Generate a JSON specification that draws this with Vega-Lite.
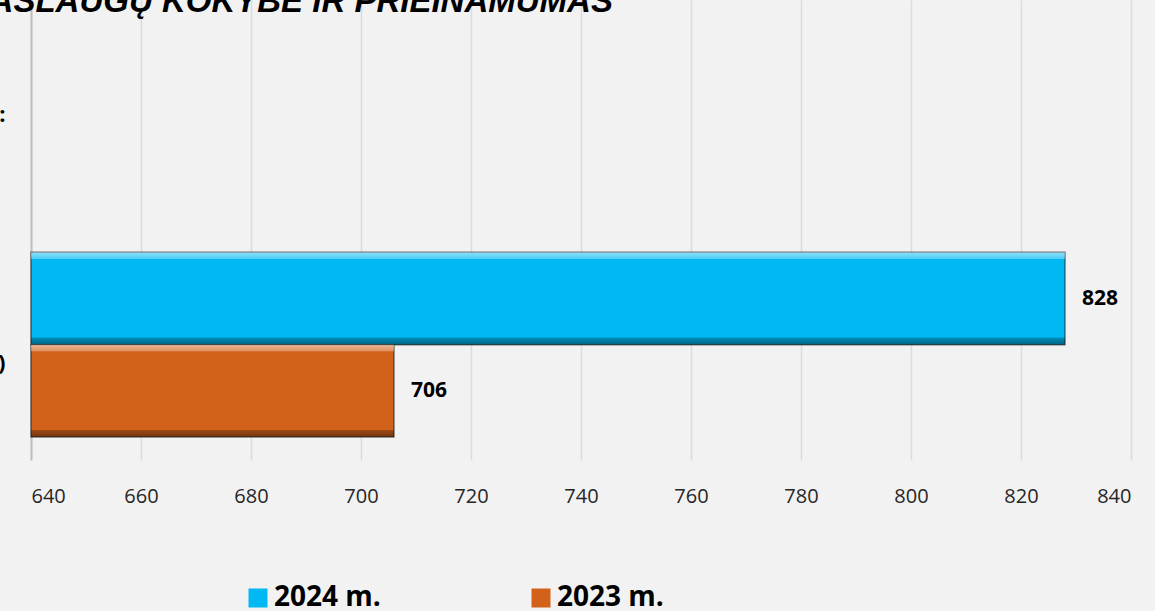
{
  "$schema": "https://vega.github.io/schema/vega-lite/v6.json",
  "autosize": {"type": "none"},
  "width": 1100,
  "height": 460,
  "padding": {"left": 31, "top": 0, "right": 24, "bottom": 151},
  "background": "#F2F2F2",
  "title": {
    "text": "PASLAUGŲ KOKYBĖ IR PRIEINAMUMAS",
    "anchor": "start",
    "frame": "group",
    "orient": "top",
    "offset": -45,
    "baseline": "alphabetic",
    "dx": -61,
    "font": "Liberation Sans",
    "fontSize": 33,
    "fontWeight": "bold",
    "fontStyle": "italic",
    "color": "#000000"
  },
  "data": {
    "values": [
      {"cat": "Socialinių paslaugų gavėjų skaičius (asmenys)", "year": "2024 m.", "value": 828},
      {"cat": "Socialinių paslaugų gavėjų skaičius (asmenys)", "year": "2023 m.", "value": 706}
    ]
  },
  "encoding": {
    "y": {
      "field": "cat",
      "type": "nominal",
      "title": null,
      "scale": {
        "domain": ["Paslaugų prieinamumas:", "Socialinių paslaugų gavėjų skaičius (asmenys)"],
        "paddingInner": 0.195,
        "paddingOuter": 0.1
      },
      "axis": {
        "labelFont": "Open Sans",
        "labelFontSize": 22,
        "labelFontWeight": "bold",
        "labelColor": "#000000",
        "labelLimit": 0,
        "labelPadding": 26,
        "labelOffset": {"condition": {"test": "datum.value === 'Paslaugų prieinamumas:'", "value": 0}, "value": 18},
        "ticks": false,
        "domainColor": "#BFBFBF",
        "domainWidth": 2,
        "grid": false
      }
    },
    "yOffset": {
      "field": "year",
      "type": "nominal",
      "sort": ["2024 m.", "2023 m."],
      "scale": {"paddingInner": 0, "paddingOuter": 0}
    },
    "x": {
      "field": "value",
      "type": "quantitative",
      "title": null,
      "scale": {"domain": [640, 840], "zero": false, "nice": false},
      "axis": {
        "values": [640, 660, 680, 700, 720, 740, 760, 780, 800, 820, 840],
        "grid": true,
        "gridColor": "#DCDCDC",
        "gridWidth": 1.5,
        "domain": false,
        "ticks": false,
        "labelFont": "Open Sans",
        "labelFontSize": 20,
        "labelColor": "#262626",
        "labelPadding": 26
      }
    }
  },
  "layer": [
    {
      "mark": {"type": "bar", "stroke": "#222222", "strokeWidth": 1.5, "strokeOpacity": 0.6},
      "encoding": {
        "x2": {"datum": 640},
        "color": {
          "field": "year",
          "type": "nominal",
          "scale": {"domain": ["2024 m.", "2023 m."], "range": ["#00B9F2", "#D2611A"]},
          "legend": {
            "title": null,
            "orient": "none",
            "direction": "horizontal",
            "columns": 2,
            "legendX": 213,
            "legendY": 584,
            "padding": 0,
            "columnPadding": 146,
            "symbolType": "square",
            "symbolSize": 361,
            "symbolStrokeWidth": 0,
            "symbolOpacity": 1,
            "labelOffset": 2,
            "labelFont": "Open Sans",
            "labelFontSize": 28,
            "labelFontWeight": "bold",
            "labelColor": "#000000",
            "labelLimit": 0
          }
        }
      }
    },
    {
      "mark": {
        "type": "bar",
        "fill": {
          "gradient": "linear",
          "x1": 0, "y1": 0, "x2": 0, "y2": 1,
          "stops": [
            {"offset": 0, "color": "rgba(255,255,255,0.55)"},
            {"offset": 0.07, "color": "rgba(255,255,255,0.3)"},
            {"offset": 0.075, "color": "rgba(255,255,255,0)"},
            {"offset": 0.92, "color": "rgba(0,0,0,0)"},
            {"offset": 0.925, "color": "rgba(0,0,0,0.25)"},
            {"offset": 1, "color": "rgba(0,0,0,0.45)"}
          ]
        }
      },
      "encoding": {"x2": {"datum": 640}}
    },
    {
      "mark": {
        "type": "text",
        "align": "left",
        "baseline": "middle",
        "dx": 17,
        "font": "Open Sans",
        "fontSize": 21,
        "fontWeight": "bold",
        "color": "#000000"
      },
      "encoding": {"text": {"field": "value", "type": "quantitative"}}
    }
  ],
  "config": {"view": {"stroke": null}}
}
